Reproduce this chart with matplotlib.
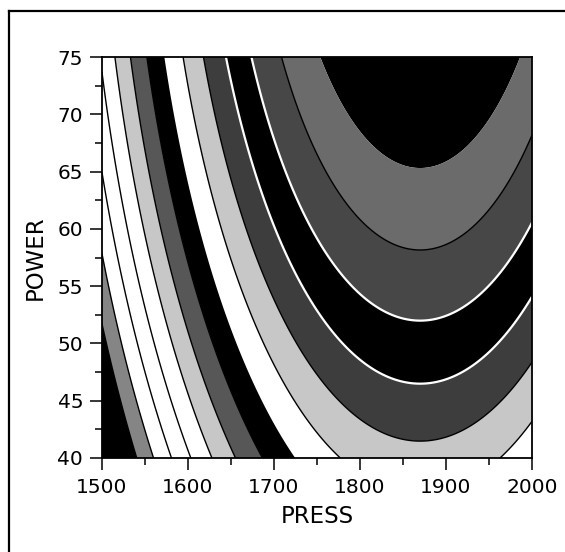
import numpy as np
import matplotlib
matplotlib.use('Agg')
import matplotlib.pyplot as plt
from matplotlib.lines import Line2D


# response surface
# S = (PRESS - press_opt)^2 + b_lin*(75 - POWER) + b_quad*(75 - POWER)^2
press_opt = 1870.0
power_top = 75.0
b_lin = 1190.0
b_quad = 21.0

# contour boundaries (from the black cap outwards)
levels = [13500, 26000, 38500, 51000, 63500, 76000, 88500,
          101000, 113500, 126000, 138500, 151000, 163500, 176000]

# fill of each band, inner black cap first
band_grays = [0.0, 0.42, 0.28, 0.0, 0.24, 0.78, 1.0,
              0.0, 0.34, 0.78, 1.0, 1.0, 1.0, 0.52, 0.0]

white_lines = [38500, 51000]
black_lines = [26000, 63500, 76000, 101000, 113500, 126000,
               138500, 151000, 163500, 176000]

press_ticks = [1500, 1600, 1700, 1800, 1900, 2000]
power_ticks = [40, 45, 50, 55, 60, 65, 70, 75]


press = np.linspace(1500, 2000, 501)
power = np.linspace(40, 75, 351)
P, W = np.meshgrid(press, power)
S = (P - press_opt)**2 + b_lin * (power_top - W) + b_quad * (power_top - W)**2

fig = plt.figure(figsize=(5.65, 5.52), dpi=100)
ax = fig.add_axes([0.1805, 0.1703, 0.761, 0.7264])

bounds = [0] + levels + [S.max() + 1]
colors = [str(g) for g in band_grays]
ax.contourf(P, W, S, levels=bounds, colors=colors, antialiased=True)
ax.contour(P, W, S, levels=black_lines, colors='black', linewidths=1.0)
ax.contour(P, W, S, levels=white_lines, colors='white', linewidths=1.6)

ax.set_xlim(1500, 2000)
ax.set_ylim(40, 75)
ax.set_xticks(press_ticks)
ax.set_yticks(power_ticks)
ax.set_xticks(np.arange(1550, 2000, 100), minor=True)
ax.set_yticks(np.arange(42.5, 75, 5), minor=True)
ax.tick_params(which='major', direction='out', length=8.5, width=1.1,
               labelsize=14.5, pad=5)
ax.tick_params(which='minor', direction='out', length=5, width=1.1)
ax.tick_params(axis='x', which='major', pad=6)
for s in ax.spines.values():
    s.set_linewidth(1.3)

ax.set_xlabel('PRESS', fontsize=16.5, labelpad=6)
ax.set_ylabel('POWER', fontsize=16.5, labelpad=8)

# frame of the scanned figure (top and left edges only are on the page)
fig.add_artist(Line2D([9 / 565, 1.0], [1 - 11 / 552, 1 - 11 / 552],
                      color='black', linewidth=1.6))
fig.add_artist(Line2D([9 / 565, 9 / 565], [0.0, 1 - 11 / 552],
                      color='black', linewidth=1.6))

plt.savefig('out.png', dpi=100)
